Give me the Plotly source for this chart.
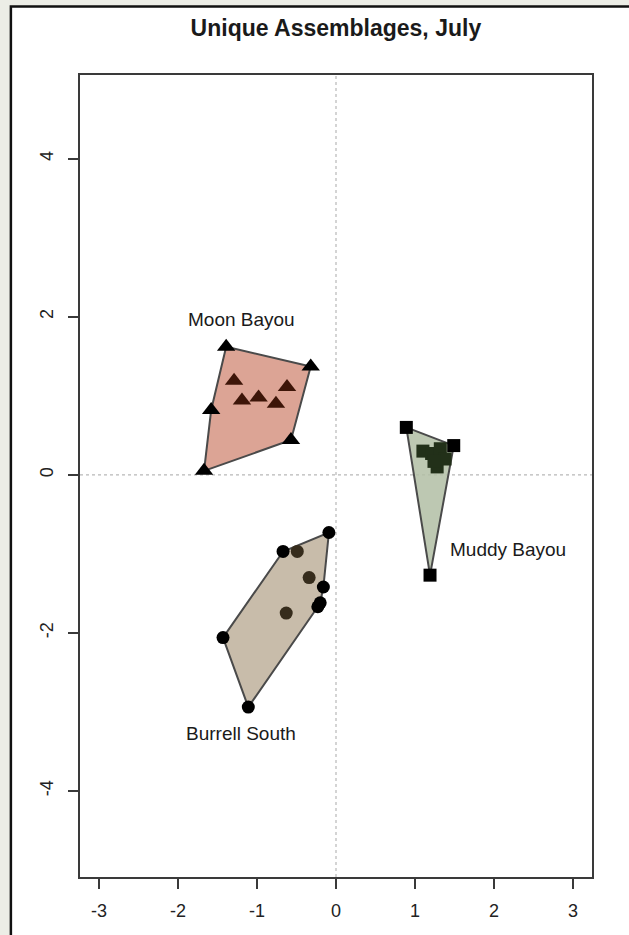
import plotly.graph_objects as go

# Ordination scores per site (NMDS axis 1, axis 2)
moon_x = [-1.39, -0.32, -1.58, -1.67, -0.57, -1.29, -1.19, -0.98, -0.76, -0.62]
moon_y = [1.62, 1.37, 0.82, 0.05, 0.44, 1.19, 0.94, 0.98, 0.90, 1.11]

muddy_x = [0.89, 1.49, 1.10, 1.21, 1.32, 1.28, 1.38, 1.24, 1.19]
muddy_y = [0.60, 0.37, 0.30, 0.27, 0.33, 0.10, 0.20, 0.17, -1.27]

burrell_x = [-0.09, -0.67, -0.49, -0.34, -0.16, -0.20, -0.23, -0.63, -1.43, -1.11]
burrell_y = [-0.73, -0.97, -0.97, -1.30, -1.42, -1.62, -1.67, -1.75, -2.06, -2.94]

site_names = ["Moon Bayou", "Muddy Bayou", "Burrell South"]
label_x = [-1.19, 2.18, -1.20]
label_y = [1.97, -0.94, -3.27]

x_ticks = [-3, -2, -1, 0, 1, 2, 3]
y_ticks = [-4, -2, 0, 2, 4]


def convex_hull(xs, ys):
    pts = sorted(set(zip(xs, ys)))

    def cross(o, a, b):
        return (a[0] - o[0]) * (b[1] - o[1]) - (a[1] - o[1]) * (b[0] - o[0])

    lower, upper = [], []
    for p in pts:
        while len(lower) >= 2 and cross(lower[-2], lower[-1], p) <= 0:
            lower.pop()
        lower.append(p)
    for p in reversed(pts):
        while len(upper) >= 2 and cross(upper[-2], upper[-1], p) <= 0:
            upper.pop()
        upper.append(p)
    return lower[:-1] + upper[:-1]


groups = [
    (moon_x, moon_y, "triangle-up", 16, "rgba(214,148,130,0.85)", "#3d1508"),
    (muddy_x, muddy_y, "square", 13, "rgba(178,190,165,0.85)", "#223019"),
    (burrell_x, burrell_y, "circle", 13, "rgba(190,176,155,0.85)", "#362c1c"),
]

fig = go.Figure()

for xs, ys, sym, size, fill, inner in groups:
    hull = convex_hull(xs, ys)
    hx = [p[0] for p in hull] + [hull[0][0]]
    hy = [p[1] for p in hull] + [hull[0][1]]
    fig.add_trace(go.Scatter(
        x=hx, y=hy, mode="lines", fill="toself", fillcolor=fill,
        line=dict(color="#4a4a4a", width=2), hoverinfo="skip", showlegend=False))
    hull_set = set(hull)
    colors = ["#000000" if (x, y) in hull_set else inner for x, y in zip(xs, ys)]
    fig.add_trace(go.Scatter(
        x=xs, y=ys, mode="markers",
        marker=dict(symbol=sym, size=size, color=colors, line=dict(width=0)),
        showlegend=False))

for name, lx, ly in zip(site_names, label_x, label_y):
    fig.add_annotation(x=lx, y=ly, text=name, showarrow=False,
                       font=dict(family="Liberation Sans, Arial", size=19, color="#1a1a1a"))

# White panel with a dark frame on the grey page
fig.add_shape(type="rect", xref="paper", yref="paper",
              x0=-0.135, x1=1.12, y0=-0.09, y1=1.0855,
              fillcolor="white", line=dict(color="#111111", width=2.5), layer="below")

# Reference lines through the origin
fig.add_shape(type="line", xref="x", yref="paper", x0=0, x1=0, y0=0, y1=1,
              line=dict(color="#b8b8b8", width=1.2, dash="dot"), layer="below")
fig.add_shape(type="line", xref="paper", yref="y", x0=0, x1=1, y0=0, y1=0,
              line=dict(color="#b8b8b8", width=1.2, dash="dot"), layer="below")

axis_common = dict(showgrid=False, zeroline=False, showline=True, mirror=True,
                   linecolor="#3a3a3a", linewidth=2, ticks="outside", ticklen=10,
                   tickwidth=1.5, tickcolor="#3a3a3a",
                   tickfont=dict(family="Liberation Sans, Arial", size=18, color="#222222"))

fig.update_xaxes(range=[-3.24, 3.24], tickvals=x_ticks,
                 ticktext=[str(v) for v in x_ticks], ticklabelstandoff=6, **axis_common)
fig.update_yaxes(range=[-5.09, 5.06], tickvals=y_ticks,
                 ticktext=[str(v) for v in y_ticks], tickangle=-90,
                 ticklabelstandoff=8, **axis_common)

fig.update_layout(
    width=629, height=935,
    margin=dict(l=80, r=37, t=75, b=58),
    paper_bgcolor="#ecede6", plot_bgcolor="white",
    title=dict(text="<b>Unique Assemblages, July</b>", x=0.534, xref="container",
               y=1 - 28 / 935, yref="container", xanchor="center", yanchor="middle",
               font=dict(family="Liberation Sans, Arial", size=23, color="#1a1a1a")),
)

fig.write_html("out.html")
